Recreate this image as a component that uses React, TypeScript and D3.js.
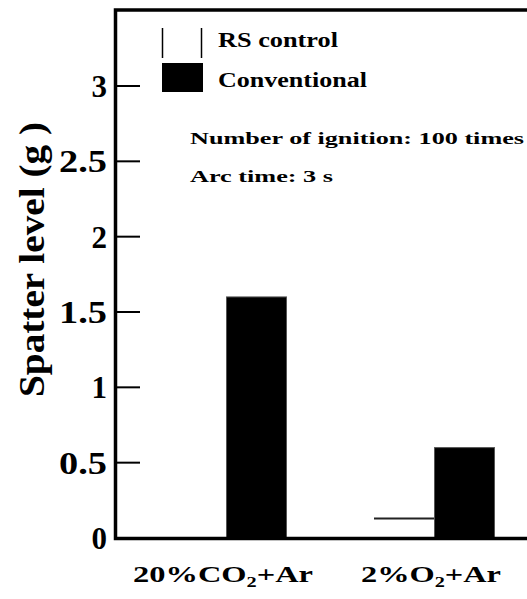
import React from "react";
import * as d3 from "d3";

const categories = ["20%CO2+Ar", "2%O2+Ar"];
const seriesNames = ["RS control", "Conventional"];
const rsControl = [0, 0.13];
const conventional = [1.6, 0.6];
const yTicks = [0, 0.5, 1, 1.5, 2, 2.5, 3];
const yTickLabels = ["0", "0.5", "1", "1.5", "2", "2.5", "3"];

const W = 527;
const H = 599;
const FONT = "Liberation Serif, Times New Roman, Tinos, Times, serif";

export default function App() {
  const left = 115.5;
  const top = 10;
  const bottom = 538.5;
  const right = 600;

  const y = d3.scaleLinear().domain([0, 3]).range([538, 86]);
  const x = d3.scaleBand<string>().domain(categories).range([122, 538]).padding(0);
  const xi = d3.scaleBand<string>().domain(seriesNames).range([0, 122]).padding(0);

  const values: Record<string, number[]> = {
    "RS control": rsControl,
    Conventional: conventional,
  };

  const labelParts = [
    { pre: "20%CO", sub: "2", post: "+Ar", len: 180 },
    { pre: "2%O", sub: "2", post: "+Ar", len: 140 },
  ];

  const ts = { fontFamily: FONT, fontWeight: 700 } as React.CSSProperties;

  return (
    <svg width={W} height={H} style={{ position: "absolute", left: 0, top: 0, background: "#fff" }}>
      <rect x={0} y={0} width={W} height={H} fill="#fff" />
      {/* bars */}
      {categories.map((c, ci) => {
        const cx = (x(c) as number) + x.bandwidth() / 2 - 61;
        return seriesNames.map((s) => {
          const v = values[s][ci];
          const bx = cx + (xi(s) as number);
          const by = y(v);
          const bw = xi.bandwidth();
          if (s === "Conventional") {
            return (
              <rect key={c + s} x={bx + 0.5} y={by} width={bw - 1} height={538 - by}
                fill="#000" stroke="#555" strokeWidth={1} />
            );
          }
          if (v <= 0) return null;
          return (
            <g key={c + s}>
              <rect x={bx} y={by} width={bw} height={538 - by} fill="#fff" />
              <line x1={bx + 1} x2={bx + bw} y1={by} y2={by} stroke="#222" strokeWidth={2} />
            </g>
          );
        });
      })}
      {/* frame */}
      <path d={`M${right},${top} H${left} V${bottom} H${right}`} fill="none" stroke="#000" strokeWidth={3.5} />
      {/* ticks */}
      {yTicks.map((t, i) =>
        t === 0 ? null : (
          <line key={"t" + i} x1={left} x2={140} y1={y(t)} y2={y(t)} stroke="#000" strokeWidth={2} />
        )
      )}
      {yTicks.map((t, i) => {
        const lab = yTickLabels[i];
        const extra = lab.length > 1 ? { textLength: 48, lengthAdjust: "spacingAndGlyphs" } : {};
        return (
          <text key={"l" + i} x={107} y={y(t)} dy="0.35em" textAnchor="end"
            style={ts} fontSize={31} fill="#000" {...extra}>
            {lab}
          </text>
        );
      })}
      {/* y title */}
      <text transform={`translate(44,259.5) rotate(-90)`} textAnchor="middle"
        style={ts} fontSize={36} fill="#000"
        textLength={275} lengthAdjust="spacingAndGlyphs">
        Spatter level (g )
      </text>
      {/* x labels */}
      {categories.map((c, ci) => {
        const p = labelParts[ci];
        const cx = (x(c) as number) + x.bandwidth() / 2 - 3;
        return (
          <text key={"x" + ci} x={cx} y={582} textAnchor="middle" style={ts}
            fontSize={24} fill="#000" textLength={p.len} lengthAdjust="spacingAndGlyphs">
            {p.pre}
            <tspan dy={5} fontSize={15}>{p.sub}</tspan>
            <tspan dy={-5}>{p.post}</tspan>
          </text>
        );
      })}
      {/* legend */}
      <line x1={162.5} x2={162.5} y1={28} y2={58} stroke="#000" strokeWidth={1.5} />
      <line x1={201.5} x2={201.5} y1={28} y2={58} stroke="#000" strokeWidth={1.5} />
      <rect x={162} y={63} width={41} height={29} fill="#000" />
      <text x={218} y={47} style={ts} fontSize={20} fill="#000"
        textLength={120} lengthAdjust="spacingAndGlyphs">{seriesNames[0]}</text>
      <text x={218} y={87} style={ts} fontSize={20} fill="#000"
        textLength={149} lengthAdjust="spacingAndGlyphs">{seriesNames[1]}</text>
      {/* annotation */}
      <text x={190} y={144} style={ts} fontSize={17.5} fill="#000"
        textLength={334} lengthAdjust="spacingAndGlyphs">Number of ignition: 100 times</text>
      <text x={190} y={182} style={ts} fontSize={17.5} fill="#000"
        textLength={143} lengthAdjust="spacingAndGlyphs">Arc time: 3 s</text>
    </svg>
  );
}
